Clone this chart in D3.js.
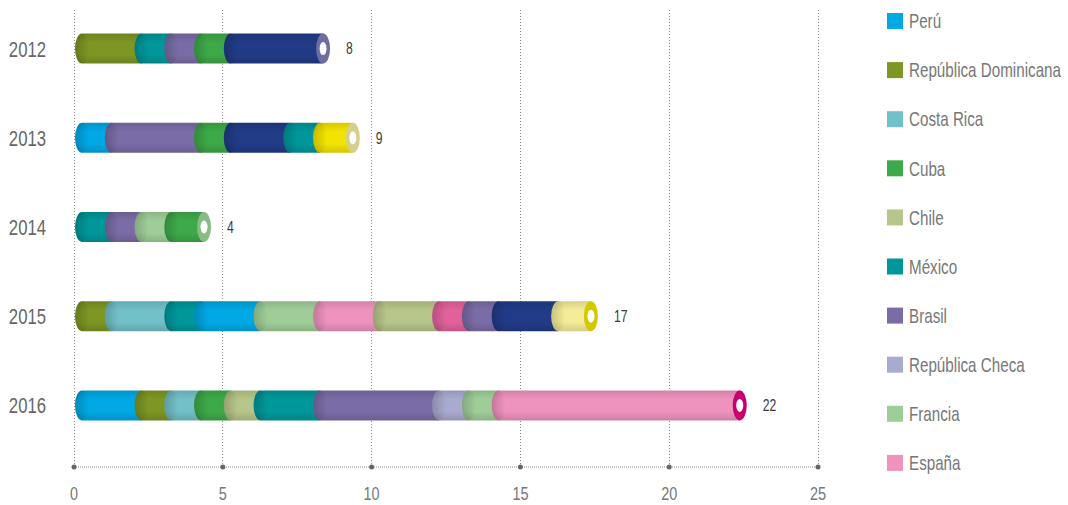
<!DOCTYPE html>
<meta charset="utf-8">
<style>
body { margin: 0; background: #fff; font-family: 'Liberation Sans', Arial, sans-serif; }
.grid line { stroke: #8a8a8a; stroke-dasharray: 1,2; shape-rendering: crispEdges; }
.base-line { stroke: #888; stroke-dasharray: 1,1; }
.tick-dot { fill: #666; }
.tick-label { fill: #777; font-size: 19px; text-anchor: middle; }
.year-label { fill: #666; font-size: 22px; text-anchor: end; }
.value-label { fill: #3a3a3a; font-size: 16px; }
.legend text { fill: #777; font-size: 20px; }
</style>
<svg width="1068" height="505"></svg>
<script src="https://cdn.jsdelivr.net/npm/d3@7"></script>
<script>
// data
var years = ["2012", "2013", "2014", "2015", "2016"];
var xTicks = [0, 5, 10, 15, 20, 25];

var legendNames = ["Perú", "República Dominicana", "Costa Rica", "Cuba", "Chile",
                   "México", "Brasil", "República Checa", "Francia", "España"];
// series past España are off the bottom of the legend, so only their colour is known
var extraKeys = ["azul", "amarillo", "amarilloClaro", "rosaFuerte"];

var colors = ["#00a8e4", "#7d9624", "#72c0c8", "#3ea948", "#b6c589",
              "#00979a", "#7a6ca6", "#a9aacf", "#9fcd98", "#ee93bd",
              "#213b87", "#f2e400", "#f4ec98", "#e2619a"];
var ringColors = ["#0088c0", "#647a1c", "#5aa6ae", "#88bb86", "#a0ae74",
                  "#007a7c", "#6e6ea0", "#8e8fba", "#88b884", "#c8006e",
                  "#6e6ea0", "#d4cf8c", "#d4c800", "#c0407a"];

var bars2012 = [["República Dominicana", 2], ["México", 1], ["Brasil", 1], ["Cuba", 1], ["azul", 3]];
var bars2013 = [["Perú", 1], ["Brasil", 3], ["Cuba", 1], ["azul", 2], ["México", 1], ["amarillo", 1]];
var bars2014 = [["México", 1], ["Brasil", 1], ["Francia", 1], ["Cuba", 1]];
var bars2015 = [["República Dominicana", 1], ["Costa Rica", 2], ["México", 1], ["Perú", 2], ["Francia", 2],
                ["España", 2], ["Chile", 2], ["rosaFuerte", 1], ["Brasil", 1], ["azul", 2], ["amarilloClaro", 1]];
var bars2016 = [["Perú", 2], ["República Dominicana", 1], ["Costa Rica", 1], ["Cuba", 1], ["Chile", 1],
                ["México", 2], ["Brasil", 4], ["República Checa", 1], ["Francia", 1], ["España", 8]];
var allBars = [bars2012, bars2013, bars2014, bars2015, bars2016];

var keys = legendNames.concat(extraKeys);
var color = d3.scaleOrdinal().domain(keys).range(colors);
var ringColor = d3.scaleOrdinal().domain(keys).range(ringColors);

var svg = d3.select("svg");

var x = d3.scaleLinear().domain([0, 25]).range([74, 818]);
var y = d3.scaleBand().domain(years).range([4, 450]);

var barH = 30, rx = 7, gridTop = 10, axisY = 467;
var squeeze = 0.76; // the original uses a condensed face

function place(px, py) { return "translate(" + px + "," + py + ") scale(" + squeeze + ",1)"; }

// gradients - one per colour, dark at top/bottom edge
var defs = svg.append("defs");
keys.forEach(function(k, i) {
  var c = d3.color(color(k));
  var gr = defs.append("linearGradient")
      .attr("id", "grad" + i)
      .attr("x1", 0).attr("y1", 0).attr("x2", 0).attr("y2", 1);
  gr.append("stop").attr("offset", "0%").attr("stop-color", c.darker(0.35));
  gr.append("stop").attr("offset", "30%").attr("stop-color", c);
  gr.append("stop").attr("offset", "70%").attr("stop-color", c);
  gr.append("stop").attr("offset", "100%").attr("stop-color", c.darker(0.4));
});
var capShade = defs.append("linearGradient").attr("id", "capShade")
    .attr("x1", 0).attr("y1", 0).attr("x2", 1).attr("y2", 0);
capShade.append("stop").attr("offset", "0%").attr("stop-color", "#000").attr("stop-opacity", 0.18);
capShade.append("stop").attr("offset", "100%").attr("stop-color", "#000").attr("stop-opacity", 0);

// grid
svg.append("g").attr("class", "grid")
  .selectAll("line")
  .data(xTicks)
  .enter().append("line")
    .attr("x1", function(d) { return x(d); })
    .attr("x2", function(d) { return x(d); })
    .attr("y1", gridTop)
    .attr("y2", axisY);

svg.append("line")
    .attr("class", "base-line")
    .attr("x1", x(0)).attr("x2", x(25))
    .attr("y1", axisY).attr("y2", axisY);

svg.selectAll(".tick-dot")
  .data(xTicks)
  .enter().append("circle")
    .attr("class", "tick-dot")
    .attr("cx", function(d) { return x(d); })
    .attr("cy", axisY)
    .attr("r", 2.5);

svg.selectAll(".tick-label")
  .data(xTicks)
  .enter().append("text")
    .attr("class", "tick-label")
    .attr("transform", function(d) { return place(x(d), 500); })
    .text(function(d) { return d; });

// year labels
svg.selectAll(".year-label")
  .data(years)
  .enter().append("text")
    .attr("class", "year-label")
    .attr("transform", function(d) { return place(46, y(d) + y.bandwidth() / 2); })
    .attr("dy", "0.36em")
    .text(function(d) { return d; });

// bars
allBars.forEach(function(segs, bi) {
  var yr = years[bi];
  var top = y(yr) + y.bandwidth() / 2 - barH / 2, bot = top + barH, mid = top + barH / 2;
  var total = d3.sum(segs, function(d) { return d[1]; });
  var acc = 0;
  var rows = segs.map(function(d) {
    var r = { key: d[0], start: acc, end: acc + d[1] };
    acc += d[1];
    return r;
  });
  var endX = x(total) + 11;

  var g = svg.append("g").attr("class", "bar");
  rows.forEach(function(r, i) {
    var cx = x(r.start) + 1 + rx;
    var ex = (i === rows.length - 1) ? endX : x(r.end) + 1 + rx;
    var p = "M" + cx + "," + top + "L" + ex + "," + top + "L" + ex + "," + bot +
            "L" + cx + "," + bot + "A" + rx + "," + (barH / 2) + " 0 0 1 " + cx + "," + top + "Z";
    g.append("path")
        .attr("d", p)
        .attr("fill", "url(#grad" + keys.indexOf(r.key) + ")");
    g.append("ellipse")
        .attr("cx", cx).attr("cy", mid)
        .attr("rx", rx).attr("ry", barH / 2)
        .attr("fill", "url(#capShade)");
  });

  var last = rows[rows.length - 1];
  g.append("ellipse")
      .attr("cx", endX).attr("cy", mid)
      .attr("rx", rx).attr("ry", barH / 2)
      .attr("fill", ringColor(last.key));
  g.append("ellipse")
      .attr("cx", endX).attr("cy", mid)
      .attr("rx", 3.5).attr("ry", 6.5)
      .attr("fill", "#fff");

  g.append("text")
      .attr("class", "value-label")
      .attr("transform", place(x(total) + 34, mid))
      .attr("dy", "0.36em")
      .text(total);
});

// legend
var legend = svg.append("g").attr("class", "legend")
  .selectAll("g")
  .data(legendNames)
  .enter().append("g")
    .attr("transform", function(d, i) { return "translate(887," + (21 + i * 49.1) + ")"; });

legend.append("rect")
    .attr("y", -8)
    .attr("width", 16)
    .attr("height", 16)
    .attr("fill", function(d) { return color(d); });

legend.append("text")
    .attr("transform", place(22, 0))
    .attr("dy", "0.36em")
    .text(function(d) { return d; });
</script>
